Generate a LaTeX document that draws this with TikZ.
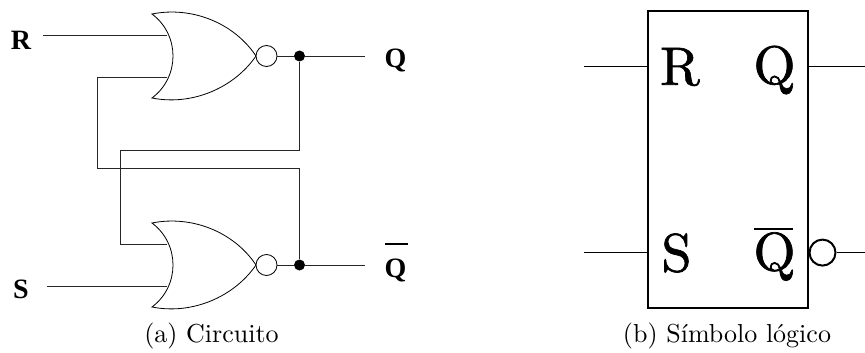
\documentclass[tikz,border=0pt]{standalone}
\usepackage{fontspec}
\newcommand{\heavytext}[1]{\special{pdf:code 2 Tr 0.12 w}#1\special{pdf:code 0 Tr}}
\tikzset{
  wire/.style={line width=0.9pt,black!85},
  gateline/.style={line width=0.8pt,black,fill=white},
  boxline/.style={line width=2pt,black},
  barline/.style={line width=2pt,black},
  symwire/.style={line width=1.2pt,black},
  junction/.style={circle,fill=black,draw=none,inner sep=0pt,minimum size=11pt},
  bubble/.style={circle,draw=black,line width=0.8pt,fill=white,inner sep=0pt,minimum size=21pt},
  symbubble/.style={circle,draw=black,line width=2pt,fill=white,inner sep=0pt,minimum size=26pt},
  cirlabel/.style={inner sep=0pt,font=\fontsize{28}{28}\selectfont\fontspec{Liberation Serif}\bfseries},
  symlabel/.style={inner sep=0pt,scale=5.4,font=\fontsize{10}{10}\selectfont},
  captionlabel/.style={inner sep=0pt,anchor=base,scale=2.6,font=\fontsize{10}{10}\selectfont},
  norgate/.pic={
    \draw[gateline] (0,0) .. controls (28,21) and (28,63) .. (0,84)
       .. controls (40,92) and (82,74) .. (104,42)
       .. controls (82,9) and (40,-8) .. (0,0) -- cycle;
    \coordinate (-in1) at (15,21);
    \coordinate (-in2) at (15,63);
    \node[bubble] (-bub) at (114.5,42) {};
  }
}
\begin{document}
\begin{tikzpicture}[x=1pt,y=-1pt]
\useasboundingbox (0,0) rectangle (865,353);
% left circuit
\coordinate (rin) at (43,35);
\coordinate (sin) at (47,286);
\coordinate (qend) at (365,56);
\coordinate (qbend) at (365,265);
\coordinate (fbA) at (97,168);
\coordinate (fbB) at (120,150);
\node[junction] (j1) at (299.5,56) {};
\node[junction] (j2) at (299.5,265) {};
\draw[wire] (j1) |- (fbB) |- (167,244);
\draw[wire] (j2) |- (fbA) |- (167,77);
\pic (g1) at (152,14) {norgate};
\pic (g2) at (152,223) {norgate};
\draw[wire] (rin) -- (g1-in1);
\draw[wire] (sin) -- (g2-in2);
\draw[wire] (g1-bub) -- (j1);
\draw[wire] (g2-bub) -- (j2);
\draw[wire] (j1) -- (qend);
\draw[wire] (j2) -- (qbend);
\node[cirlabel] (lr) at (21,40) {R};
\node[cirlabel] (ls) at (21,289) {S};
\node[cirlabel] (lq) at (395.5,61) {Q};
\node[cirlabel] (lqb) at (395.5,270) {Q};
\coordinate (barA) at (385,244);
\coordinate (barB) at (408,244);
\draw[barline] (barA) -- (barB);
\node[captionlabel] (capa) at (211.5,342) {(a) Circuito};
% symbol
\node[draw,boxline,minimum width=159.5pt,minimum height=296.5pt,inner sep=0pt] (box) at (727.75,159.75) {};
\coordinate (a1) at (584,66.5);
\coordinate (a2) at (584,252.6);
\coordinate (a3) at (865,66.5);
\coordinate (a4) at (865,252.6);
\draw[symwire] (a1) -- (a1-|box.west);
\draw[symwire] (a2) -- (a2-|box.west);
\draw[symwire] (a3) -- (a3-|box.east);
\node[symbubble] (sb) at (822.5,252.6) {};
\draw[symwire] (sb) -- (a4);
\node[symlabel] (sr) at (680,67) {\heavytext{R}};
\node[symlabel] (sq) at (774.5,70) {\heavytext{Q}};
\node[symlabel] (ss) at (676.5,253) {\heavytext{S}};
\node[symlabel] (sqb) at (774.5,256.5) {\heavytext{Q}};
\coordinate (sbarA) at (754,229);
\coordinate (sbarB) at (793,229);
\draw[barline,line width=2.6pt] (sbarA) -- (sbarB);
\node[captionlabel] (capb) at (727,342) {(b) S\'{\i}mbolo l\'ogico};
\end{tikzpicture}
\end{document}
